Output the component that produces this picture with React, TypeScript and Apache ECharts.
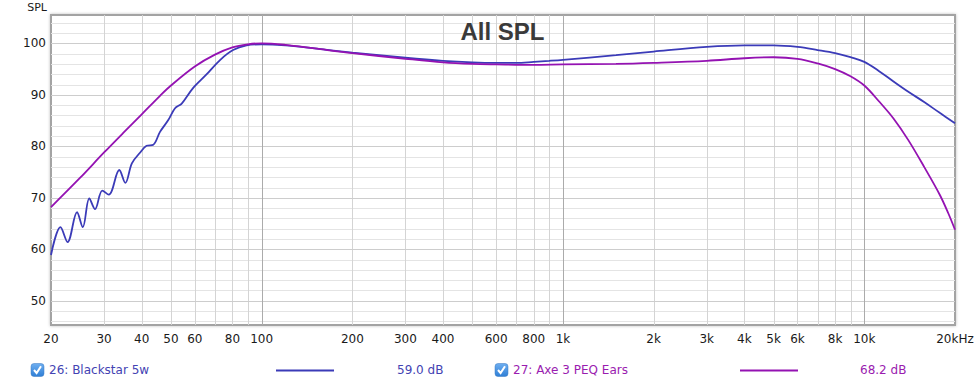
import React, { useEffect, useRef } from "react";
import * as echarts from "echarts";

// ---- data ----
const BLUE_FREQ = [20, 21.5, 22.7, 24.4, 25.5, 26.8, 28.0, 29.6, 31.1, 33.7, 35.3, 37.1, 39.4, 41.5, 43.7, 46.0, 49.0, 51.6, 54.3, 59.2, 65.5, 72.9, 80.4, 89.1, 100, 120, 150, 200, 300, 400, 500, 600, 700, 800, 900, 1000, 1500, 2000, 3000, 4000, 5000, 6000, 7000, 8000, 9000, 10000, 11200, 12500, 14000, 15800, 17800, 20000];
const BLUE_SPL = [58.9, 64.3, 61.4, 67.2, 64.3, 69.9, 67.8, 71.4, 70.6, 75.4, 72.9, 76.7, 78.7, 80.1, 80.3, 82.8, 85.1, 87.4, 88.3, 91.3, 93.9, 96.8, 98.7, 99.6, 99.8, 99.6, 99.0, 98.2, 97.2, 96.6, 96.3, 96.2, 96.2, 96.4, 96.6, 96.8, 97.7, 98.4, 99.3, 99.6, 99.6, 99.3, 98.7, 98.1, 97.3, 96.4, 94.6, 92.6, 90.6, 88.6, 86.5, 84.5];

const PURPLE_FREQ = [20, 25, 30, 35, 40, 46, 50, 60, 70, 80, 90, 100, 120, 150, 200, 300, 400, 500, 600, 800, 1000, 1500, 2000, 3000, 4000, 5000, 6000, 7000, 8000, 9000, 10000, 11200, 12500, 14000, 15800, 17800, 19000, 20000];
const PURPLE_SPL = [68.2, 73.9, 78.8, 82.8, 86.2, 89.8, 91.8, 95.5, 97.8, 99.2, 99.8, 100.0, 99.7, 99.0, 98.1, 97.0, 96.3, 96.0, 95.9, 95.8, 95.9, 96.0, 96.2, 96.6, 97.1, 97.3, 97.0, 96.1, 95.0, 93.6, 91.8, 88.7, 85.4, 81.2, 76.0, 70.6, 67.0, 63.8];

const X_LABELS = [20, 30, 40, 50, 60, 80, 100, 200, 300, 400, 600, 800, 1000, 2000, 3000, 4000, 5000, 6000, 8000, 10000, 20000];
const Y_LABELS = [50, 60, 70, 80, 90, 100];
const X_MINOR = [30, 40, 50, 60, 70, 80, 90, 200, 300, 400, 500, 600, 700, 800, 900, 2000, 3000, 4000, 5000, 6000, 7000, 8000, 9000];
const X_MAJOR = [100, 1000, 10000];
const Y_MINOR = [46, 48, 52, 54, 56, 58, 62, 64, 66, 68, 72, 74, 76, 78, 82, 84, 86, 88, 92, 94, 96, 98, 102, 104];
const Y_MAJOR = [50, 60, 70, 80, 90, 100];

const LEGEND = [
  { name: "26: Blackstar 5w", value: "59.0 dB", color: "#3b3bb8", text: "#4343b3" },
  { name: "27: Axe 3 PEQ Ears", value: "68.2 dB", color: "#9412b2", text: "#9a1cb0" },
];

const X_MIN = 20, X_MAX = 20000, Y_MIN = 45.3, Y_MAX = 105.5;
const FONT = "DejaVu Sans";

function fmtFreq(v: number): string {
  const f = Math.round(v);
  if (f === 20000) return "20kHz";
  if (f >= 1000) return f / 1000 + "k";
  return String(f);
}

function vLines(name: string, vals: number[], color: string) {
  return {
    type: "custom",
    name,
    silent: true,
    z: 1,
    data: vals.map((v) => [v, Y_MIN]),
    renderItem: (params: any, api: any) => {
      const cs = params.coordSys;
      const x = Math.round(api.coord([api.value(0), Y_MIN])[0]) + 0.5;
      return {
        type: "line",
        shape: { x1: x, y1: cs.y, x2: x, y2: cs.y + cs.height },
        style: { stroke: color, lineWidth: 1 },
      };
    },
  };
}

function hLines(name: string, vals: number[], color: string) {
  return {
    type: "custom",
    name,
    silent: true,
    z: 1,
    data: vals.map((v) => [X_MIN, v]),
    renderItem: (params: any, api: any) => {
      const cs = params.coordSys;
      const y = Math.round(api.coord([X_MIN, api.value(1)])[1]) + 0.5;
      return {
        type: "line",
        shape: { x1: cs.x, y1: y, x2: cs.x + cs.width, y2: y },
        style: { stroke: color, lineWidth: 1 },
      };
    },
  };
}

function legendGraphics() {
  const items: any[] = [];
  const pos = [
    { box: 31, text: 49, l1: 276, l2: 334, val: 397 },
    { box: 495, text: 513, l1: 740, l2: 798, val: 860 },
  ];
  LEGEND.forEach((lg, i) => {
    const p = pos[i];
    items.push({
      type: "rect",
      shape: { x: p.box, y: 363.5, width: 13, height: 13, r: 3 },
      style: {
        fill: new echarts.graphic.LinearGradient(0, 0, 0, 1, [
          { offset: 0, color: "#6eaef0" },
          { offset: 1, color: "#2f7fd6" },
        ]),
        stroke: "#3a78c0",
        lineWidth: 0.5,
      },
    });
    items.push({
      type: "polyline",
      shape: { points: [[p.box + 3, 370], [p.box + 5.6, 373], [p.box + 10, 366.3]] },
      style: { stroke: "#ffffff", lineWidth: 2, fill: null },
    });
    items.push({
      type: "text",
      x: p.text,
      y: 370,
      style: { text: lg.name, fill: lg.text, font: `12px "${FONT}"`, textVerticalAlign: "middle" },
    });
    items.push({
      type: "line",
      shape: { x1: p.l1, y1: 370.5, x2: p.l2, y2: 370.5 },
      style: { stroke: lg.color, lineWidth: 2 },
    });
    items.push({
      type: "text",
      x: p.val,
      y: 370,
      style: { text: lg.value, fill: lg.text, font: `12px "${FONT}"`, textVerticalAlign: "middle" },
    });
  });
  return items;
}

export default function App() {
  const ref = useRef<HTMLDivElement>(null);
  useEffect(() => {
    if (!ref.current) return;
    const chart = echarts.init(ref.current, null, { renderer: "svg" });
    const blue = BLUE_FREQ.map((f, i) => [f, BLUE_SPL[i]]);
    const purple = PURPLE_FREQ.map((f, i) => [f, PURPLE_SPL[i]]);
    chart.setOption({
      animation: false,
      backgroundColor: "#ffffff",
      grid: {
        left: 51,
        right: 25,
        top: 15,
        bottom: 62,
        show: true,
        backgroundColor: "#ffffff",
        borderColor: "#a3a3a3",
        borderWidth: 2,
        shadowColor: "rgba(0,0,0,0.25)",
        shadowBlur: 3,
      },
      xAxis: {
        type: "log",
        logBase: 10,
        min: X_MIN,
        max: X_MAX,
        axisLine: { show: false },
        axisTick: { show: false },
        splitLine: { show: false },
        axisLabel: {
          customValues: X_LABELS,
          formatter: (v: number) => fmtFreq(v),
          color: "#1a1a1a",
          fontFamily: FONT,
          fontSize: 12,
          margin: 8,
        },
      },
      yAxis: {
        type: "value",
        min: Y_MIN,
        max: Y_MAX,
        axisLine: { show: false },
        axisTick: { show: false },
        splitLine: { show: false },
        axisLabel: {
          customValues: Y_LABELS,
          color: "#1a1a1a",
          fontFamily: FONT,
          fontSize: 12,
          margin: 5,
        },
      },
      graphic: [
        {
          type: "text",
          x: 47,
          y: 7.5,
          style: { text: "SPL", fill: "#1a1a1a", font: `11px "${FONT}"`, textAlign: "right", textVerticalAlign: "middle" },
        },
        {
          type: "text",
          x: 502.5,
          y: 31,
          z: 10,
          style: {
            text: "All SPL",
            fill: "#3a3a3a",
            font: `bold 24px "Liberation Sans"`,
            textAlign: "center",
            textVerticalAlign: "middle",
          },
        },
        ...legendGraphics(),
      ],
      series: [
        hLines("hminor", Y_MINOR, "#e4e4e4"),
        vLines("vminor", X_MINOR, "#d4d4d4"),
        hLines("hmajor", Y_MAJOR, "#cdcdcd"),
        vLines("vmajor", X_MAJOR, "#ababab"),
        {
          type: "line",
          name: LEGEND[0].name,
          data: blue,
          smooth: 0.35,
          showSymbol: false,
          symbol: "none",
          z: 3,
          lineStyle: { color: LEGEND[0].color, width: 1.8 },
        },
        {
          type: "line",
          name: LEGEND[1].name,
          data: purple,
          smooth: 0.35,
          showSymbol: false,
          symbol: "none",
          z: 4,
          lineStyle: { color: LEGEND[1].color, width: 1.8 },
        },
      ],
    });
    return () => chart.dispose();
  }, []);
  return <div ref={ref} style={{ width: 980, height: 387, position: "absolute", left: 0, top: 0 }} />;
}
